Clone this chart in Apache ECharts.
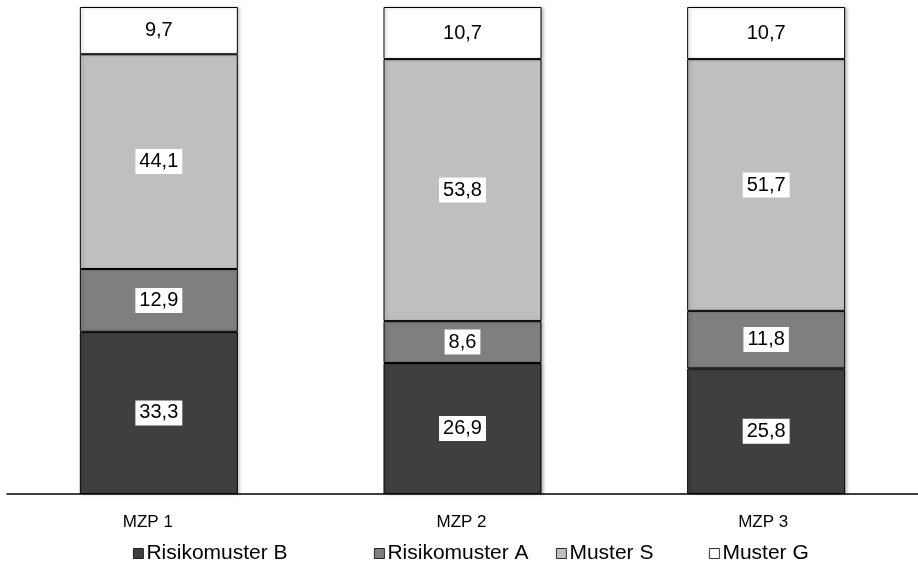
<!DOCTYPE html>
<html><head><meta charset="utf-8">
<script src="https://cdn.jsdelivr.net/npm/echarts@6/dist/echarts.min.js"></script>
<style>html,body{margin:0;padding:0;background:#fff}#c{width:918px;height:561px}</style>
</head><body><div id="c"></div>
<script>
const categories = ['MZP 1', 'MZP 2', 'MZP 3'];
const risikoB = [33.3, 26.9, 25.8];
const risikoA = [12.9, 8.6, 11.8];
const musterS = [44.1, 53.8, 51.7];
const musterG = [9.7, 10.7, 10.7];
const seriesNames = ['Risikomuster B', 'Risikomuster A', 'Muster S', 'Muster G'];
const seriesColors = ['#3f3f3f', '#7f7f7f', '#bfbfbf', '#ffffff'];
const seriesData = [risikoB, risikoA, musterS, musterG];

const FONT = "'Liberation Sans', Arial, sans-serif";
const chart = echarts.init(document.getElementById('c'), null, {renderer: 'canvas'});
const series = seriesNames.map((n, i) => ({
  name: n, type: 'bar', stack: 'all', barWidth: 158,
  data: seriesData[i],
  itemStyle: {color: seriesColors[i], borderColor: '#000', borderWidth: 1,
    shadowColor: 'rgba(0,0,0,0.25)', shadowBlur: 3, shadowOffsetX: 2},
  label: {show: true, position: 'inside', color: '#000', backgroundColor: '#fff',
    fontFamily: FONT, fontSize: 20, padding: [3, 4, 2, 4],
    formatter: p => String(p.value).replace('.', ',')}
}));
const legendLeft = [128, 369, 551, 704];
const legends = seriesNames.map((n, i) => ({
  data: [n], left: legendLeft[i], top: 538, itemWidth: 10, itemHeight: 10, itemGap: 4,
  icon: 'rect', textStyle: {fontFamily: FONT, fontSize: 21, color: '#000', padding: [0,0,0,-2]},
  itemStyle: {borderColor: '#000', borderWidth: 0.8}
}));
chart.setOption({
  animation: false,
  backgroundColor: '#fff',
  grid: {left: 7, right: -6, top: 7, bottom: 67},
  legend: legends,
  xAxis: {type: 'category', data: categories,
    axisLine: {lineStyle: {color: '#000', width: 1.5}}, axisTick: {show: false},
    axisLabel: {color: '#000', fontFamily: FONT, fontSize: 17, margin: 20,
      formatter: (v, i) => i === 0 ? '{a|' + v + '}' : (i === 1 ? '{b|' + v + '}' : '{c|' + v + '}'),
      rich: {
        a: {fontFamily: FONT, fontSize: 17, color: '#000', padding: [0, 22, 0, 0]},
        b: {fontFamily: FONT, fontSize: 17, color: '#000', padding: [0, 2, 0, 0]},
        c: {fontFamily: FONT, fontSize: 17, color: '#000', padding: [0, 6, 0, 0]}
      }}},
  yAxis: {type: 'value', min: 0, max: 100, show: false, splitLine: {show: false}},
  series: series
});
</script></body></html>
